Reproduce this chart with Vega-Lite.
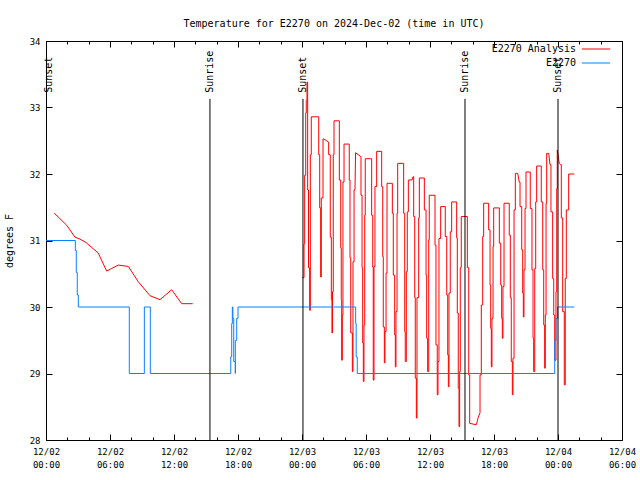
{
"$schema":"https://vega.github.io/schema/vega-lite/v6.json",
"width":576,"height":399,
"autosize":{"type":"none"},
"padding":{"left":46,"top":41,"right":18,"bottom":40},
"background":"white",
"config":{"view":{"stroke":"black","strokeWidth":1},"font":"DejaVu Sans Mono",
"axis":{"domain":false,"grid":false,"labelFont":"DejaVu Sans Mono","labelFontSize":9,"labelColor":"black","tickColor":"black","tickWidth":1,"titleFont":"DejaVu Sans Mono","titleFontWeight":"normal","titleFontSize":10,"titleColor":"black"},
"legend":{"orient":"none","legendX":542,"legendY":0,"symbolType":"M-2,0L2,0","symbolSize":200,"symbolStrokeWidth":1,"labelAlign":"right","labelOffset":-28,"labelFont":"DejaVu Sans Mono","labelFontSize":10,"labelColor":"black","padding":0,"rowPadding":1}},
"title":{"text":"Temperature for E2270 on 2024-Dec-02 (time in UTC)","font":"DejaVu Sans Mono","fontSize":10,"fontWeight":"normal","color":"black","offset":8},
"resolve":{"axis":{"x":"independent","y":"independent"}},
"datasets":{
"red1":[{"h":0.78,"t":31.41},{"h":1.94,"t":31.23},{"h":2.72,"t":31.05},{"h":3.19,"t":31.02},{"h":3.75,"t":30.97},{"h":4.9,"t":30.81},{"h":5.69,"t":30.54},{"h":6.16,"t":30.58},{"h":6.78,"t":30.63},{"h":7.72,"t":30.61},{"h":8.65,"t":30.38},{"h":9.75,"t":30.17},{"h":10.69,"t":30.11},{"h":11.78,"t":30.26},{"h":12.72,"t":30.05},{"h":13.75,"t":30.05}],
"red2":[{"h":24.03,"t":30.44},{"h":24.19,"t":30.44},{"h":24.19,"t":30.95},{"h":24.25,"t":30.95},{"h":24.25,"t":31.98},{"h":24.35,"t":31.98},{"h":24.35,"t":32.92},{"h":24.4,"t":32.92},{"h":24.4,"t":33.11},{"h":24.47,"t":33.11},{"h":24.47,"t":33.38},{"h":24.53,"t":33.38},{"h":24.53,"t":31.76},{"h":24.61,"t":31.76},{"h":24.61,"t":30.59},{"h":24.72,"t":30.59},{"h":24.72,"t":29.95},{"h":24.78,"t":29.95},{"h":24.78,"t":32.29},{"h":24.87,"t":32.29},{"h":24.87,"t":32.86},{"h":25.57,"t":32.86},{"h":25.57,"t":32.29},{"h":25.66,"t":32.29},{"h":25.66,"t":31.49},{"h":25.75,"t":31.49},{"h":25.75,"t":30.45},{"h":25.81,"t":30.45},{"h":25.81,"t":31.64},{"h":25.97,"t":31.64},{"h":25.97,"t":32.53},{"h":26.2,"t":32.51},{"h":26.5,"t":32.48},{"h":26.5,"t":32.29},{"h":26.65,"t":32.29},{"h":26.65,"t":31.05},{"h":26.75,"t":31.05},{"h":26.75,"t":30.11},{"h":26.81,"t":30.11},{"h":26.81,"t":29.61},{"h":26.86,"t":29.61},{"h":26.86,"t":30.23},{"h":26.93,"t":30.23},{"h":26.93,"t":32.29},{"h":27.0,"t":32.29},{"h":27.0,"t":32.8},{"h":27.5,"t":32.8},{"h":27.5,"t":31.91},{"h":27.63,"t":31.91},{"h":27.63,"t":30.89},{"h":27.68,"t":30.89},{"h":27.68,"t":30.11},{"h":27.72,"t":30.11},{"h":27.72,"t":29.2},{"h":27.78,"t":29.2},{"h":27.78,"t":29.88},{"h":27.84,"t":29.88},{"h":27.84,"t":31.88},{"h":27.94,"t":31.88},{"h":27.94,"t":32.45},{"h":28.43,"t":32.45},{"h":28.43,"t":31.91},{"h":28.5,"t":31.91},{"h":28.5,"t":30.74},{"h":28.57,"t":30.74},{"h":28.57,"t":29.61},{"h":28.72,"t":29.61},{"h":28.72,"t":29.03},{"h":28.78,"t":29.03},{"h":28.78,"t":30.68},{"h":28.88,"t":30.68},{"h":28.88,"t":31.76},{"h":28.97,"t":31.76},{"h":29.02,"t":32.32},{"h":29.53,"t":32.26},{"h":29.53,"t":31.68},{"h":29.63,"t":31.68},{"h":29.63,"t":30.59},{"h":29.69,"t":30.59},{"h":29.69,"t":29.46},{"h":29.75,"t":29.46},{"h":29.75,"t":28.88},{"h":29.81,"t":28.88},{"h":29.81,"t":29.73},{"h":29.88,"t":29.73},{"h":29.88,"t":31.38},{"h":29.93,"t":31.38},{"h":29.93,"t":32.23},{"h":30.53,"t":32.23},{"h":30.53,"t":31.38},{"h":30.63,"t":31.38},{"h":30.63,"t":30.6},{"h":30.68,"t":30.6},{"h":30.68,"t":28.9},{"h":30.75,"t":28.9},{"h":30.75,"t":30.61},{"h":30.84,"t":30.61},{"h":30.84,"t":31.81},{"h":31.0,"t":31.81},{"h":31.0,"t":32.34},{"h":31.47,"t":32.34},{"h":31.47,"t":31.81},{"h":31.57,"t":31.81},{"h":31.57,"t":30.76},{"h":31.62,"t":30.76},{"h":31.62,"t":29.7},{"h":31.72,"t":29.7},{"h":31.72,"t":29.16},{"h":31.78,"t":29.16},{"h":31.78,"t":29.63},{"h":31.88,"t":29.63},{"h":31.88,"t":30.51},{"h":31.97,"t":30.51},{"h":31.97,"t":31.86},{"h":32.47,"t":31.86},{"h":32.47,"t":31.41},{"h":32.56,"t":31.41},{"h":32.56,"t":30.48},{"h":32.69,"t":30.48},{"h":32.69,"t":29.58},{"h":32.75,"t":29.58},{"h":32.75,"t":29.1},{"h":32.81,"t":29.1},{"h":32.81,"t":29.93},{"h":32.91,"t":29.93},{"h":32.91,"t":31.41},{"h":32.97,"t":31.41},{"h":32.97,"t":32.16},{"h":33.53,"t":32.16},{"h":33.53,"t":31.41},{"h":33.63,"t":31.41},{"h":33.63,"t":29.63},{"h":33.68,"t":29.63},{"h":33.68,"t":29.18},{"h":33.78,"t":29.18},{"h":33.78,"t":30.53},{"h":33.87,"t":30.53},{"h":33.87,"t":31.43},{"h":33.97,"t":31.43},{"h":33.97,"t":31.91},{"h":34.31,"t":31.91},{"h":34.41,"t":31.96},{"h":34.47,"t":31.96},{"h":34.47,"t":31.36},{"h":34.57,"t":31.36},{"h":34.57,"t":30.14},{"h":34.62,"t":30.14},{"h":34.62,"t":28.93},{"h":34.72,"t":28.93},{"h":34.72,"t":28.33},{"h":34.78,"t":28.33},{"h":34.78,"t":30.14},{"h":34.94,"t":30.14},{"h":34.94,"t":31.34},{"h":35.0,"t":31.34},{"h":35.0,"t":31.94},{"h":35.47,"t":31.94},{"h":35.47,"t":31.46},{"h":35.63,"t":31.46},{"h":35.63,"t":30.48},{"h":35.69,"t":30.48},{"h":35.69,"t":29.53},{"h":35.78,"t":29.53},{"h":35.78,"t":29.03},{"h":35.88,"t":29.03},{"h":35.88,"t":31.01},{"h":35.93,"t":31.01},{"h":35.93,"t":31.68},{"h":36.47,"t":31.68},{"h":36.47,"t":30.93},{"h":36.56,"t":30.93},{"h":36.56,"t":29.43},{"h":36.68,"t":29.43},{"h":36.68,"t":28.68},{"h":36.75,"t":28.68},{"h":36.75,"t":29.18},{"h":36.84,"t":29.18},{"h":36.84,"t":31.03},{"h":37.0,"t":31.03},{"h":37.0,"t":31.51},{"h":37.43,"t":31.51},{"h":37.43,"t":31.06},{"h":37.57,"t":31.06},{"h":37.57,"t":30.18},{"h":37.66,"t":30.18},{"h":37.66,"t":29.28},{"h":37.72,"t":29.28},{"h":37.72,"t":28.8},{"h":37.78,"t":28.8},{"h":37.78,"t":30.21},{"h":37.9,"t":30.21},{"h":37.9,"t":31.13},{"h":38.03,"t":31.13},{"h":38.03,"t":31.58},{"h":38.5,"t":31.58},{"h":38.5,"t":31.04},{"h":38.56,"t":31.04},{"h":38.56,"t":29.91},{"h":38.65,"t":29.91},{"h":38.65,"t":28.78},{"h":38.72,"t":28.78},{"h":38.72,"t":28.2},{"h":38.78,"t":28.2},{"h":38.78,"t":29.03},{"h":38.84,"t":29.03},{"h":38.84,"t":30.59},{"h":38.93,"t":30.59},{"h":38.93,"t":31.36},{"h":39.5,"t":31.36},{"h":39.5,"t":30.59},{"h":39.63,"t":30.59},{"h":39.63,"t":28.98},{"h":39.72,"t":28.98},{"h":39.72,"t":28.25},{"h":40.34,"t":28.23},{"h":40.43,"t":28.28},{"h":40.5,"t":28.33},{"h":40.69,"t":28.41},{"h":40.69,"t":28.98},{"h":40.81,"t":28.98},{"h":40.81,"t":30.03},{"h":40.94,"t":30.03},{"h":40.94,"t":31.06},{"h":41.03,"t":31.06},{"h":41.03,"t":31.56},{"h":41.5,"t":31.56},{"h":41.5,"t":31.16},{"h":41.63,"t":31.16},{"h":41.63,"t":30.33},{"h":41.69,"t":30.33},{"h":41.69,"t":29.68},{"h":41.75,"t":29.68},{"h":41.75,"t":29.1},{"h":41.81,"t":29.1},{"h":41.81,"t":29.83},{"h":41.91,"t":29.83},{"h":41.91,"t":30.91},{"h":41.97,"t":30.91},{"h":41.97,"t":31.49},{"h":42.5,"t":31.49},{"h":42.5,"t":30.96},{"h":42.63,"t":30.96},{"h":42.63,"t":30.33},{"h":42.72,"t":30.33},{"h":42.72,"t":29.83},{"h":42.78,"t":29.83},{"h":42.78,"t":29.53},{"h":42.84,"t":29.53},{"h":42.84,"t":30.31},{"h":42.94,"t":30.31},{"h":42.94,"t":31.56},{"h":43.43,"t":31.56},{"h":43.43,"t":31.08},{"h":43.53,"t":31.08},{"h":43.53,"t":30.14},{"h":43.62,"t":30.14},{"h":43.62,"t":29.18},{"h":43.72,"t":29.18},{"h":43.72,"t":28.68},{"h":43.78,"t":28.68},{"h":43.78,"t":29.23},{"h":43.88,"t":29.23},{"h":43.88,"t":31.46},{"h":44.0,"t":31.46},{"h":44.0,"t":32.01},{"h":44.22,"t":32.01},{"h":44.37,"t":31.88},{"h":44.44,"t":31.88},{"h":44.44,"t":31.51},{"h":44.6,"t":31.51},{"h":44.6,"t":30.86},{"h":44.69,"t":30.86},{"h":44.69,"t":30.21},{"h":44.75,"t":30.21},{"h":44.75,"t":29.85},{"h":44.81,"t":29.85},{"h":44.81,"t":30.56},{"h":44.91,"t":30.56},{"h":44.91,"t":31.48},{"h":45.0,"t":31.48},{"h":45.0,"t":32.03},{"h":45.4,"t":32.03},{"h":45.4,"t":31.48},{"h":45.56,"t":31.48},{"h":45.56,"t":30.56},{"h":45.66,"t":30.56},{"h":45.66,"t":29.53},{"h":45.72,"t":29.53},{"h":45.72,"t":29.03},{"h":45.82,"t":29.03},{"h":45.82,"t":30.58},{"h":45.91,"t":30.58},{"h":45.91,"t":31.58},{"h":46.0,"t":31.58},{"h":46.0,"t":32.12},{"h":46.43,"t":32.12},{"h":46.43,"t":31.58},{"h":46.57,"t":31.58},{"h":46.57,"t":30.56},{"h":46.66,"t":30.56},{"h":46.66,"t":29.73},{"h":46.75,"t":29.73},{"h":46.75,"t":29.08},{"h":46.81,"t":29.08},{"h":46.81,"t":29.88},{"h":46.88,"t":29.88},{"h":46.88,"t":31.56},{"h":46.94,"t":31.56},{"h":46.94,"t":32.31},{"h":47.13,"t":32.31},{"h":47.25,"t":32.14},{"h":47.34,"t":32.14},{"h":47.34,"t":31.43},{"h":47.5,"t":31.43},{"h":47.5,"t":30.43},{"h":47.6,"t":30.43},{"h":47.6,"t":29.88},{"h":47.69,"t":29.88},{"h":47.69,"t":29.2},{"h":47.81,"t":29.2},{"h":47.81,"t":30.23},{"h":47.88,"t":30.23},{"h":47.88,"t":31.78},{"h":47.93,"t":31.78},{"h":47.93,"t":32.36},{"h":48.0,"t":32.29},{"h":48.12,"t":32.16},{"h":48.22,"t":32.14},{"h":48.31,"t":32.14},{"h":48.31,"t":31.34},{"h":48.44,"t":31.34},{"h":48.44,"t":29.93},{"h":48.59,"t":29.93},{"h":48.59,"t":28.83},{"h":48.68,"t":28.83},{"h":48.68,"t":30.43},{"h":48.78,"t":30.43},{"h":48.78,"t":31.46},{"h":49.0,"t":31.46},{"h":49.0,"t":32.0},{"h":49.53,"t":32.0}],
"blue":[{"h":0,"t":31.0},{"h":2.75,"t":31.0},{"h":2.75,"t":30.85},{"h":2.84,"t":30.85},{"h":2.84,"t":30.52},{"h":2.93,"t":30.52},{"h":2.93,"t":30.18},{"h":3.03,"t":30.18},{"h":3.03,"t":30.0},{"h":7.81,"t":30.0},{"h":7.81,"t":29.0},{"h":9.22,"t":29.0},{"h":9.22,"t":30.0},{"h":9.78,"t":30.0},{"h":9.78,"t":29.0},{"h":17.32,"t":29.0},{"h":17.32,"t":29.25},{"h":17.41,"t":29.25},{"h":17.41,"t":29.75},{"h":17.47,"t":29.75},{"h":17.47,"t":30.0},{"h":17.52,"t":30.0},{"h":17.52,"t":29.83},{"h":17.6,"t":29.83},{"h":17.6,"t":29.18},{"h":17.75,"t":29.18},{"h":17.75,"t":29.0},{"h":17.75,"t":29.5},{"h":17.88,"t":29.5},{"h":17.88,"t":29.83},{"h":18.0,"t":29.83},{"h":18.0,"t":30.0},{"h":29.03,"t":30.0},{"h":29.03,"t":29.75},{"h":29.08,"t":29.75},{"h":29.08,"t":29.25},{"h":29.18,"t":29.25},{"h":29.18,"t":29.0},{"h":47.69,"t":29.0},{"h":47.69,"t":29.5},{"h":47.81,"t":29.5},{"h":47.81,"t":29.83},{"h":47.97,"t":29.83},{"h":47.97,"t":30.0},{"h":49.53,"t":30.0}],
"sun":[{"h":0.28,"label":"Sunset"},{"h":15.37,"label":"Sunrise"},{"h":24.09,"label":"Sunset"},{"h":39.28,"label":"Sunrise"},{"h":48.0,"label":"Sunset"}]
},
"layer":[
{"data":{"name":"red2"},"mark":{"type":"line","strokeWidth":1,"interpolate":"linear"},
"encoding":{
"x":{"field":"h","type":"quantitative","scale":{"domain":[0,54],"nice":false,"zero":false},
"axis":{"orient":"bottom","title":null,"values":[0,6,12,18,24,30,36,42,48,54],"tickSize":-6,"labelPadding":13,"labelLineHeight":13,"labelBaseline":"top","labelFlush":false,"labelOverlap":false,
"labelExpr":"[datum.value < 24 ? '12/02' : (datum.value < 48 ? '12/03' : '12/04'), (datum.value % 24 < 10 ? '0' : '') + (datum.value % 24) + ':00']"}},
"y":{"field":"t","type":"quantitative","scale":{"domain":[28,34],"nice":false,"zero":false},
"axis":{"orient":"left","title":"degrees F","values":[28,29,30,31,32,33,34],"tickSize":-6,"labelPadding":12,"titlePadding":15,"labelFontSize":9}},
"color":{"datum":"E2270 Analysis","scale":{"domain":["E2270 Analysis","E2270"],"range":["#ff0000","#0a80ff"]},"legend":{"title":null}},
"order":{"value":null}}},
{"data":{"name":"red1"},"mark":{"type":"line","strokeWidth":1},
"encoding":{
"x":{"field":"h","type":"quantitative","axis":null},
"y":{"field":"t","type":"quantitative","axis":null},
"color":{"datum":"E2270 Analysis"},
"order":{"value":null}}},
{"data":{"name":"blue"},"mark":{"type":"line","strokeWidth":1},
"encoding":{
"x":{"field":"h","type":"quantitative","axis":{"orient":"top","title":null,"labels":false,"values":[0,6,12,18,24,30,36,42,48,54],"tickSize":-6}},
"y":{"field":"t","type":"quantitative","axis":{"orient":"right","title":null,"labels":false,"values":[28,29,30,31,32,33,34],"tickSize":-6}},
"color":{"datum":"E2270"},
"order":{"value":null}}},
{"data":{"name":"sun"},"transform":[{"filter":"datum.h > 1"}],"mark":{"type":"rule","color":"black","strokeWidth":1},
"encoding":{
"x":{"field":"h","type":"quantitative","axis":{"orient":"bottom","title":null,"labels":false,"values":[2,4,8,10,14,16,20,22,26,28,32,34,38,40,44,46,50,52],"tickSize":-3}},
"y":{"datum":33.13,"type":"quantitative","axis":null},
"y2":{"datum":28}}},
{"data":{"name":"sun"},"mark":{"type":"text","angle":270,"align":"left","baseline":"middle","font":"DejaVu Sans Mono","fontSize":10,"color":"black"},
"encoding":{
"x":{"field":"h","type":"quantitative","axis":{"orient":"top","title":null,"labels":false,"values":[2,4,8,10,14,16,20,22,26,28,32,34,38,40,44,46,50,52],"tickSize":-3}},
"y":{"datum":33.22,"type":"quantitative","axis":null},
"text":{"field":"label"}}}
]
}
